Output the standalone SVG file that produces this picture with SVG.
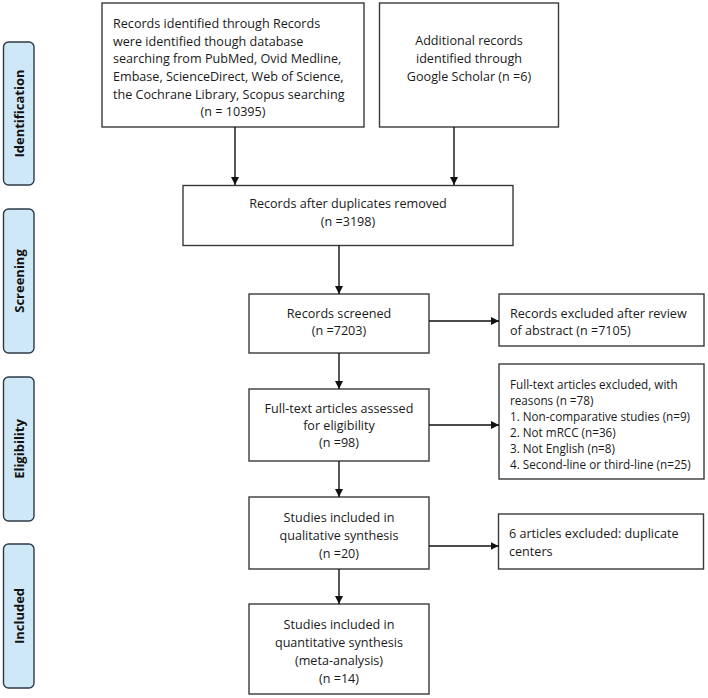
<svg xmlns="http://www.w3.org/2000/svg" width="708" height="698" viewBox="0 0 708 698">
<defs>
<style>
.box{fill:#fff;stroke:#3a3a3a;stroke-width:1.4}
.phase{fill:#cfe8f8;stroke:#2e3a44;stroke-width:1.4}
.t{font-family:"Open Sans","Noto Sans","Liberation Sans",sans-serif;font-size:12.6px;fill:#1a1a1a}
.s{font-size:11.7px}
.c{text-anchor:middle}
.ph{font-family:"Open Sans","Noto Sans","Liberation Sans",sans-serif;font-size:13px;font-weight:bold;fill:#111;text-anchor:middle}
.ln{stroke:#111;stroke-width:1.4;fill:none;marker-end:url(#ah)}
</style>
<marker id="ah" viewBox="0 0 10 10" refX="10" refY="5" markerWidth="8" markerHeight="8" markerUnits="userSpaceOnUse" orient="auto">
<path d="M0,0 L10,5 L0,10 Z" fill="#111"/>
</marker>
</defs>
<rect width="708" height="698" fill="#fff"/>

<g id="phase-identification">
<rect class="phase" x="3.5" y="42" width="30.5" height="143" rx="5"/>
<text class="ph" transform="translate(23.5,113.5) rotate(-90)">Identification</text>
</g>
<g id="phase-screening">
<rect class="phase" x="3.5" y="209" width="30.5" height="144" rx="5"/>
<text class="ph" transform="translate(23.5,281) rotate(-90)">Screening</text>
</g>
<g id="phase-eligibility">
<rect class="phase" x="3.5" y="377" width="30.5" height="144" rx="5"/>
<text class="ph" transform="translate(23.5,449) rotate(-90)">Eligibility</text>
</g>
<g id="phase-included">
<rect class="phase" x="3.5" y="544" width="30.5" height="144" rx="5"/>
<text class="ph" transform="translate(23.5,616) rotate(-90)">Included</text>
</g>

<g id="node-db">
<rect class="box" x="102" y="3" width="262" height="124"/>
<text class="t" x="113" y="28">Records identified through Records</text>
<text class="t" x="113" y="46">were identified though database</text>
<text class="t" x="113" y="63">searching from PubMed, Ovid Medline,</text>
<text class="t" x="113" y="81">Embase, ScienceDirect, Web of Science,</text>
<text class="t" x="113" y="99">the Cochrane Library, Scopus  searching</text>
<text class="t c" x="233" y="116">(n = 10395)</text>
</g>
<g id="node-scholar">
<rect class="box" x="379.5" y="3" width="179" height="124"/>
<text class="t c" x="469" y="45">Additional records</text>
<text class="t c" x="469" y="63">identified through</text>
<text class="t c" x="469" y="81">Google Scholar (n =6)</text>
</g>
<g id="node-dedup">
<rect class="box" x="183" y="185.5" width="330" height="60"/>
<text class="t c" x="348" y="208">Records after duplicates removed</text>
<text class="t c" x="348" y="226">(n =3198)</text>
</g>
<g id="node-screened">
<rect class="box" x="249" y="294" width="180" height="59"/>
<text class="t c" x="339" y="318">Records screened</text>
<text class="t c" x="339" y="335">(n =7203)</text>
</g>
<g id="node-excl-abstract">
<rect class="box" x="499" y="294" width="205" height="52"/>
<text class="t" x="510" y="318">Records excluded after review</text>
<text class="t" x="510" y="335">of abstract (n =7105)</text>
</g>
<g id="node-fulltext">
<rect class="box" x="249" y="389" width="180" height="72"/>
<text class="t c" x="339" y="413">Full-text articles assessed</text>
<text class="t c" x="339" y="430">for eligibility</text>
<text class="t c" x="339" y="447">(n =98)</text>
</g>
<g id="node-excl-fulltext">
<rect class="box" x="499" y="364" width="205" height="115"/>
<text class="t s" x="510" y="389">Full-text articles excluded, with</text>
<text class="t s" x="510" y="405">reasons (n =78)</text>
<text class="t s" x="510" y="421">1. Non-comparative studies (n=9)</text>
<text class="t s" x="510" y="437">2. Not mRCC (n=36)</text>
<text class="t s" x="510" y="453">3. Not English (n=8)</text>
<text class="t s" x="510" y="469">4. Second-line or third-line (n=25)</text>
</g>
<g id="node-qualitative">
<rect class="box" x="249" y="497" width="180" height="72"/>
<text class="t c" x="339" y="522">Studies included in</text>
<text class="t c" x="339" y="540">qualitative synthesis</text>
<text class="t c" x="339" y="558">(n =20)</text>
</g>
<g id="node-excl-dup">
<rect class="box" x="498.5" y="514" width="205" height="55"/>
<text class="t" x="509" y="538">6 articles excluded: duplicate</text>
<text class="t" x="509" y="556">centers</text>
</g>
<g id="node-quantitative">
<rect class="box" x="249" y="604" width="180" height="90"/>
<text class="t c" x="339" y="629">Studies included in</text>
<text class="t c" x="339" y="647">quantitative synthesis</text>
<text class="t c" x="339" y="665">(meta-analysis)</text>
<text class="t c" x="339" y="683">(n =14)</text>
</g>

<g id="connectors">
<line class="ln" x1="235" y1="127" x2="235" y2="185"/>
<line class="ln" x1="454" y1="127" x2="454" y2="185"/>
<line class="ln" x1="339" y1="245.5" x2="339" y2="294"/>
<line class="ln" x1="429" y1="321" x2="499" y2="321"/>
<line class="ln" x1="339" y1="353" x2="339" y2="389"/>
<line class="ln" x1="429" y1="425" x2="499" y2="425"/>
<line class="ln" x1="339" y1="461" x2="339" y2="497"/>
<line class="ln" x1="429" y1="546" x2="498.5" y2="546"/>
<line class="ln" x1="339" y1="569" x2="339" y2="604"/>
</g>
</svg>
